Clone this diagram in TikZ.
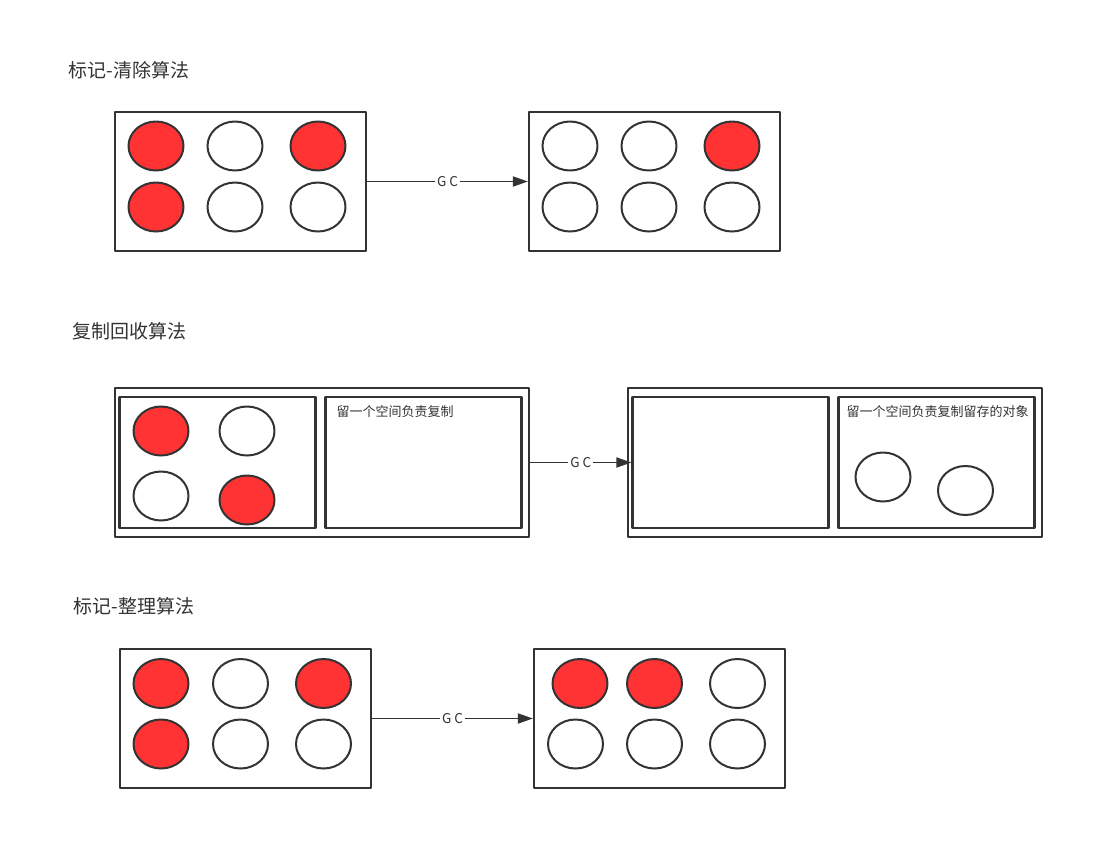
\documentclass[tikz,border=0pt]{standalone}
\usepackage{fontspec}
\setmainfont{Noto Sans CJK SC}
\usetikzlibrary{arrows.meta,shapes.geometric}
\definecolor{rosso}{HTML}{FF3333}
\definecolor{grigio}{HTML}{333333}
\tikzset{
  box/.style={draw=grigio, line width=2.2pt, inner sep=0pt},
  palla/.style={ellipse, draw=grigio, line width=2pt, inner sep=0pt,
    minimum width=55, minimum height=49},
  piena/.style={palla, fill=rosso},
  vuota/.style={palla, fill=white},
  titolo/.style={anchor=west, text=grigio, font=\fontsize{19}{19}\selectfont},
  nota/.style={anchor=west, text=grigio, font=\fontsize{13}{13}\selectfont},
  freccia/.style={draw=grigio, line width=1.8pt, -{Triangle[length=15pt,width=10pt]}},
  gc/.style={fill=white, text=grigio, inner sep=2pt, font=\fontsize{13.5}{13.5}\selectfont}
}
\begin{document}
\begin{tikzpicture}[x=1pt, y=-1pt, line cap=round, line join=round]
  \useasboundingbox (0,0) rectangle (1104,849);

  % marca e cancella
  \node[titolo] (t1) at (65,70) {标记-清除算法};
  \node[box, minimum width=251, minimum height=139] (a1) at (240.5,181.5) {};
  \node[box, minimum width=251, minimum height=139] (a2) at (654.5,181.5) {};
  \foreach \n/\x/\y/\s in {1/156/146/piena, 2/235/146/vuota, 3/318/146/piena,
                           4/156/207/piena, 5/235/207/vuota, 6/318/207/vuota}
    \node[\s] (p\n) at (\x,\y) {};
  \foreach \n/\x/\y/\s in {1/570/146/vuota, 2/649/146/vuota, 3/732/146/piena,
                           4/570/207/vuota, 5/649/207/vuota, 6/732/207/vuota}
    \node[\s] (q\n) at (\x,\y) {};
  \draw[freccia] (a1.east) -- node[gc] {G C} (a2.west);

  % copia
  \node[titolo] (t2) at (69,331) {复制回收算法};
  \node[box, minimum width=414, minimum height=149] (c1) at (322,462.5) {};
  \node[box, minimum width=196, minimum height=131] (c1l) at (217.5,462.5) {};
  \node[box, minimum width=196, minimum height=131] (c1r) at (423.5,462.5) {};
  \node[nota] (n1) at (333,412) {留一个空间负责复制};
  \node[piena] (r1) at (161,431) {};
  \node[vuota] (r2) at (247,431) {};
  \node[vuota] (r3) at (161,496) {};
  \node[piena] (r4) at (247,500) {};
  \node[box, minimum width=414, minimum height=149] (c2) at (835,462.5) {};
  \node[box, minimum width=196, minimum height=131] (c2l) at (730.5,462.5) {};
  \node[box, minimum width=196, minimum height=131] (c2r) at (936.5,462.5) {};
  \node[nota] (n2) at (843,412) {留一个空间负责复制留存的对象};
  \node[vuota] (s1) at (883,477) {};
  \node[vuota] (s2) at (965.5,490.5) {};
  \draw[freccia] (c1.east) -- node[gc] {G C} (c2l.west);

  % marca e compatta
  \node[titolo] (t3) at (70,606) {标记-整理算法};
  \node[box, minimum width=251, minimum height=139] (e1) at (245.5,718.5) {};
  \node[box, minimum width=251, minimum height=139] (e2) at (659.5,718.5) {};
  \foreach \n/\x/\y/\s in {1/161/683.5/piena, 2/240.5/683.5/vuota, 3/323.5/683.5/piena,
                           4/161/744/piena, 5/240.5/744/vuota, 6/323.5/744/vuota}
    \node[\s] (u\n) at (\x,\y) {};
  \foreach \n/\x/\y/\s in {1/580/683.5/piena, 2/654.5/683.5/piena, 3/737.5/683.5/vuota,
                           4/575.5/744/vuota, 5/654.5/744/vuota, 6/737.5/744/vuota}
    \node[\s] (v\n) at (\x,\y) {};
  \draw[freccia] (e1.east) -- node[gc] {G C} (e2.west);
\end{tikzpicture}
\end{document}
